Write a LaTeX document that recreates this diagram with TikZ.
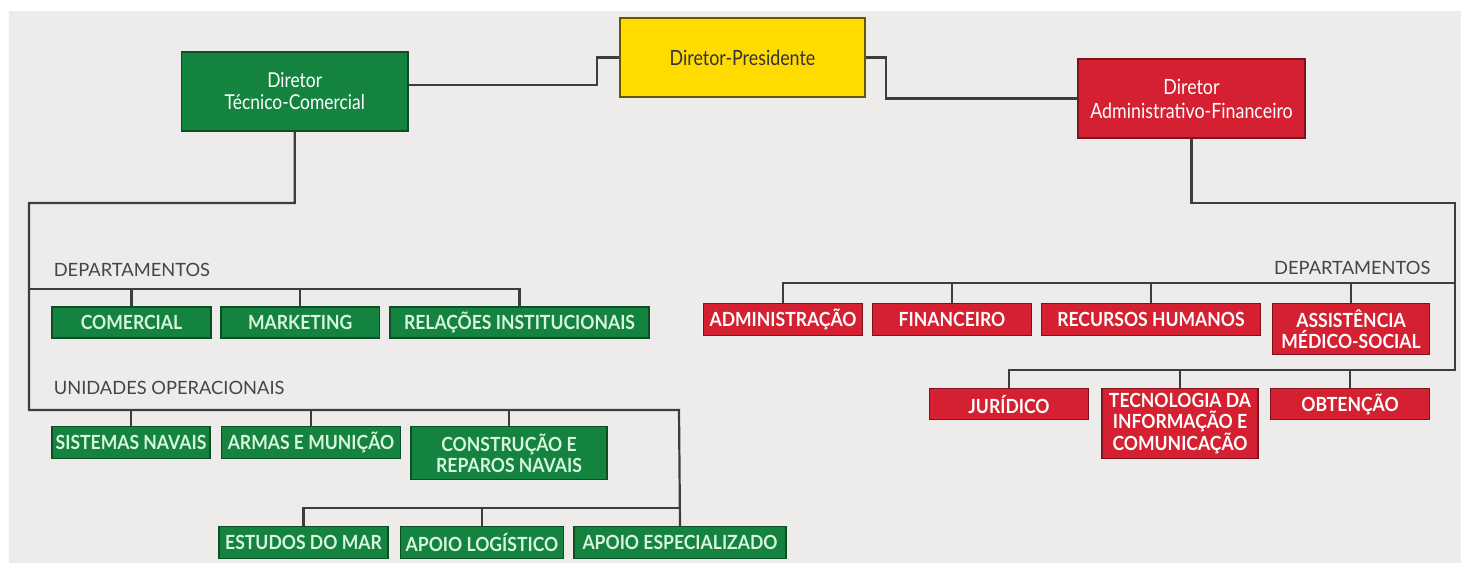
\documentclass[tikz,border=0pt]{standalone}
\usepackage{fontspec}
\setmainfont{Lato}
\newfontfamily\condf{Lato}[FakeStretch=0.85]
\newfontfamily\boxf{Lato}[FakeStretch=0.9]
\definecolor{bggray}{HTML}{EDECEA}
\definecolor{gbox}{HTML}{14833F}
\definecolor{rbox}{HTML}{D42030}
\definecolor{ybox}{HTML}{FFDB00}
\definecolor{lin}{HTML}{3D3D3D}
\definecolor{gtxt}{HTML}{D8F5DF}
\definecolor{labtxt}{HTML}{454545}
\begin{document}
\begin{tikzpicture}[x=1pt,y=-1pt,
  base/.style={rectangle, inner sep=0pt, align=center, line width=1.2pt},
  gnode/.style={base, fill=gbox, draw=gbox!60!black, text=gtxt, font=\boxf\bfseries\fontsize{19.5}{21}\selectfont},
  rnode/.style={base, fill=rbox, draw=rbox!60!black, text=white, font=\boxf\bfseries\fontsize{19.5}{21}\selectfont},
  dirg/.style={base, fill=gbox, draw=gbox!60!black, text=white, font=\condf\fontsize{20.5}{22}\selectfont},
  dirr/.style={base, fill=rbox, draw=rbox!60!black, text=white, font=\condf\fontsize{21}{24}\selectfont},
  diry/.style={base, fill=ybox, draw=ybox!40!black, text=black!80, font=\condf\fontsize{21}{24}\selectfont},
  lab/.style={inner sep=0pt, text=labtxt, font=\fontsize{18.3}{20}\selectfont},
  conn/.style={draw=lin, line width=2.2pt},
]
\useasboundingbox (0,0) rectangle (1461,563);
\fill[white] (0,0) rectangle (1461,563);
\fill[bggray] (9,11) rectangle (1461,563);

% directors
\node[diry, minimum width=245, minimum height=79] (pres) at (742.5,57.5) {Diretor-Presidente};
\node[dirg, minimum width=226.5, minimum height=79] (tc) at (294.75,91.5) {Diretor\\Técnico-Comercial};
\node[dirr, minimum width=227, minimum height=79] (af) at (1191.5,98.5) {Diretor\\Administrativo-Financeiro};

% left departments
\node[gnode, minimum width=159, minimum height=31] (com) at (131.5,322.5) {COMERCIAL};
\node[gnode, minimum width=158.5, minimum height=31] (mkt) at (300.25,322.5) {MARKETING};
\node[gnode, minimum width=259, minimum height=31] (rel) at (519.5,322.5) {RELAÇÕES INSTITUCIONAIS};

% units
\node[gnode, minimum width=158, minimum height=32, anchor=north] (sis) at (131,426) {SISTEMAS NAVAIS};
\node[gnode, minimum width=178.5, minimum height=32, anchor=north] (arm) at (311,426) {ARMAS E MUNIÇÃO};
\node[gnode, minimum width=196, minimum height=53, anchor=north] (con) at (509,426) {CONSTRUÇÃO E\\REPAROS NAVAIS};
\node[gnode, minimum width=169, minimum height=32, anchor=north] (est) at (303.5,526) {ESTUDOS DO MAR};
\node[gnode, minimum width=163.5, minimum height=32, anchor=north] (log) at (482,526) {APOIO LOGÍSTICO};
\node[gnode, minimum width=212, minimum height=32, anchor=north] (esp) at (680,526) {APOIO ESPECIALIZADO};

% right departments
\node[rnode, minimum width=158.6, minimum height=32, anchor=north] (adm) at (783,303) {ADMINISTRAÇÃO};
\node[rnode, minimum width=158.5, minimum height=32, anchor=north] (fin) at (952,303) {FINANCEIRO};
\node[rnode, minimum width=218.7, minimum height=32, anchor=north] (rh) at (1151,303) {RECURSOS HUMANOS};
\node[rnode, minimum width=157.6, minimum height=51, anchor=north] (ass) at (1351,303) {ASSISTÊNCIA\\MÉDICO-SOCIAL};
\node[rnode, minimum width=158.4, minimum height=31, anchor=north] (jur) at (1009,388) {JURÍDICO};
\node[rnode, minimum width=156, minimum height=70, anchor=north] (tec) at (1180,388) {TECNOLOGIA DA\\INFORMAÇÃO E\\COMUNICAÇÃO};
\node[rnode, minimum width=159.6, minimum height=31, anchor=north] (obt) at (1350,388) {OBTENÇÃO};

% labels
\node[lab, anchor=west] (ldep) at (53.6,270) {DEPARTAMENTOS};
\node[lab, anchor=west] (luni) at (53.6,388) {UNIDADES OPERACIONAIS};
\node[lab, anchor=east] (rdep) at (1430.6,268) {DEPARTAMENTOS};

% junction coordinates
\coordinate (jl) at (29,203);
\coordinate (jr) at (1455,203);
\coordinate (jdl) at (29,289);
\coordinate (jul) at (29,410);
\coordinate (jue) at (679,410);
\coordinate (ju2) at (679,508);
\coordinate (jdr) at (1455,283);
\coordinate (jr2) at (1455,370);

% top connectors
\draw[conn] ([yshift=6.5]tc.east) -| (597,57.5) -- (pres.west);
\draw[conn] (pres.east) -- ++(20,0) |- (af.west);

% left trunk
\draw[conn] (tc.south) |- (jl) -- (jul) -- (jue) -- (esp.north);
\draw[conn] (jdl) -| (rel.north);
\draw[conn] (com.north) -- (com.north |- jdl);
\draw[conn] (mkt.north) -- (mkt.north |- jdl);
\draw[conn] (sis.north) -- (sis.north |- jul);
\draw[conn] (arm.north) -- (arm.north |- jul);
\draw[conn] (con.north) -- (con.north |- jul);
\draw[conn] (ju2) -| (est.north);
\draw[conn] (log.north) -- (log.north |- ju2);

% right trunk
\draw[conn] (af.south) |- (jr) -- (jr2) -| (jur.north);
\draw[conn] (jdr) -| (adm.north);
\draw[conn] (fin.north) -- (fin.north |- jdr);
\draw[conn] (rh.north) -- (rh.north |- jdr);
\draw[conn] (ass.north) -- (ass.north |- jdr);
\draw[conn] (tec.north) -- (tec.north |- jr2);
\draw[conn] (obt.north) -- (obt.north |- jr2);
\end{tikzpicture}
\end{document}
